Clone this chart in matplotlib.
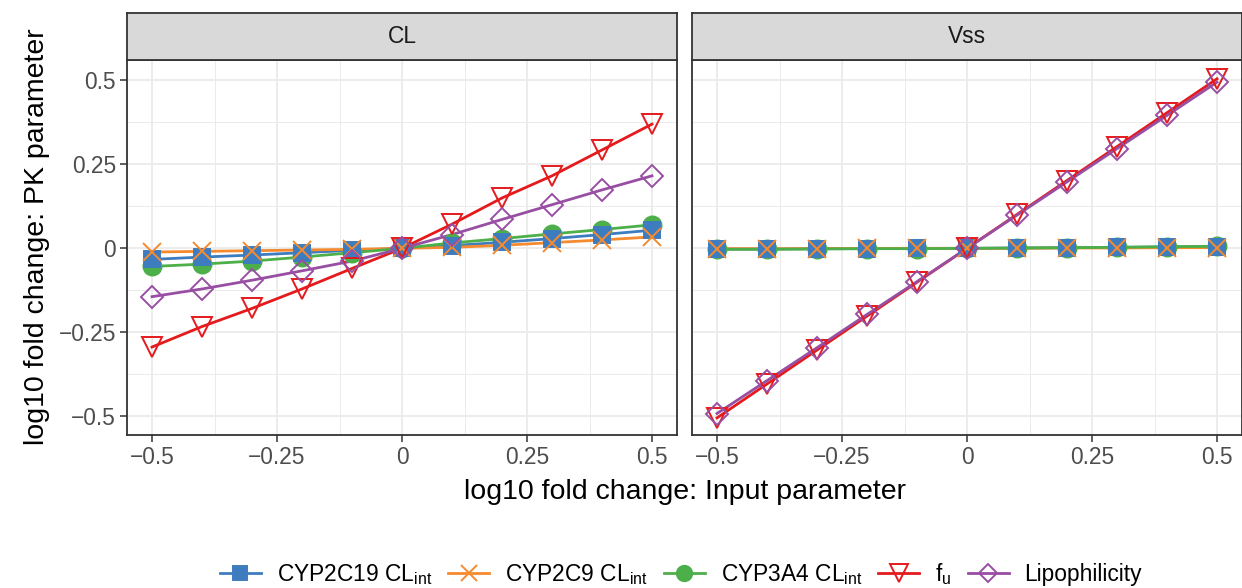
import numpy as np
import matplotlib.pyplot as plt
from matplotlib.lines import Line2D
from matplotlib.ticker import MultipleLocator

plt.rcParams['font.family'] = ['Liberation Sans', 'DejaVu Sans']
plt.rcParams['mathtext.fontset'] = 'custom'
plt.rcParams['mathtext.rm'] = 'Liberation Sans'

# Data
x_vals = [-0.5, -0.4, -0.3, -0.2, -0.1, 0.0, 0.1, 0.2, 0.3, 0.4, 0.5]
panels = ['CL', 'Vss']
series = ['CYP2C19', 'CYP2C9', 'CYP3A4', 'fu', 'Lipophilicity']
labels = [r'CYP2C19 CL$_\mathregular{int}$', r'CYP2C9 CL$_\mathregular{int}$',
          r'CYP3A4 CL$_\mathregular{int}$', r'f$_\mathregular{u}$', 'Lipophilicity']

cl_cyp2c19 = [-0.033, -0.026, -0.020, -0.013, -0.006, 0.0, 0.008, 0.018, 0.029, 0.041, 0.054]
cl_cyp2c9 = [-0.011, -0.009, -0.007, -0.005, -0.003, 0.0, 0.003, 0.009, 0.017, 0.025, 0.034]
cl_cyp3a4 = [-0.054, -0.047, -0.038, -0.026, -0.013, 0.0, 0.016, 0.029, 0.043, 0.056, 0.070]
cl_fu = [-0.294, -0.233, -0.179, -0.121, -0.060, 0.0, 0.072, 0.150, 0.216, 0.293, 0.370]
cl_lipo = [-0.144, -0.121, -0.095, -0.067, -0.038, 0.0, 0.041, 0.086, 0.130, 0.174, 0.216]

vss_cyp2c19 = [-0.002, -0.002, -0.001, -0.001, 0.0, 0.0, 0.001, 0.002, 0.003, 0.004, 0.005]
vss_cyp2c9 = [-0.001, -0.001, -0.001, 0.0, 0.0, 0.0, 0.0, 0.001, 0.001, 0.002, 0.002]
vss_cyp3a4 = [-0.003, -0.003, -0.002, -0.001, -0.001, 0.0, 0.001, 0.002, 0.003, 0.005, 0.006]
vss_fu = [-0.505, -0.404, -0.303, -0.202, -0.101, 0.0, 0.101, 0.202, 0.303, 0.404, 0.505]
vss_lipo = [-0.492, -0.394, -0.296, -0.197, -0.099, 0.0, 0.099, 0.198, 0.297, 0.396, 0.495]

data = {
    'CL': [cl_cyp2c19, cl_cyp2c9, cl_cyp3a4, cl_fu, cl_lipo],
    'Vss': [vss_cyp2c19, vss_cyp2c9, vss_cyp3a4, vss_fu, vss_lipo],
}

colors = ['#3E7CC0', '#F58A2E', '#4DAF4A', '#E41A1C', '#984EA3']
# marker, size, filled
styles = [('s', 12, True), ('x', 13, False), ('o', 13, True), ('v', 15, False), ('D', 11, False)]
point_z = [4, 5, 3, 6, 7]  # drawing order of the points

fig = plt.figure(figsize=(12.42, 5.88), dpi=100)
W, H = 1242, 588
ax_bottom = 1 - 435 / H
ax_height = (435 - 60) / H
strip_h = 47 / H
lefts = [127 / W, 692 / W]
width = 550 / W
tick_fs = 16.4
title_fs = 20.5

for i, panel in enumerate(panels):
    ax = fig.add_axes([lefts[i], ax_bottom, width, ax_height])
    for j, name in enumerate(series):
        ax.plot(x_vals, data[panel][j], color=colors[j], lw=2.0, zorder=2)
    for j, name in enumerate(series):
        m, ms, filled = styles[j]
        ax.plot(x_vals, data[panel][j], ls='none', marker=m, ms=ms,
                color=colors[j], markerfacecolor=colors[j] if filled else 'none',
                markeredgewidth=1.4, zorder=point_z[j])
    ax.set_xlim(-0.55, 0.55)
    ax.set_ylim(-0.556, 0.561)
    ax.set_xticks([-0.5, -0.25, 0, 0.25, 0.5])
    ax.set_xticklabels(['\u22120.5', '\u22120.25', '0', '0.25', '0.5'])
    ax.set_yticks([-0.5, -0.25, 0, 0.25, 0.5])
    ax.xaxis.set_minor_locator(MultipleLocator(0.125))
    ax.yaxis.set_minor_locator(MultipleLocator(0.125))
    ax.grid(which='major', color='#EBEBEB', lw=1.3, zorder=0)
    ax.grid(which='minor', color='#EBEBEB', lw=0.7, zorder=0)
    ax.set_axisbelow(True)
    ax.tick_params(which='minor', length=0)
    ax.tick_params(which='major', length=5, width=1.1, color='#333333',
                   labelsize=tick_fs, labelcolor='#4D4D4D', pad=3)
    for s in ax.spines.values():
        s.set_color('#333333')
        s.set_linewidth(1.3)
    if i == 0:
        ax.set_yticklabels(['\u22120.5', '\u22120.25', '0', '0.25', '0.5'])
        ax.set_ylabel('log10 fold change: PK parameter', fontsize=title_fs, labelpad=5)
        ax.yaxis.set_label_coords(-0.14, 0.53)
    else:
        ax.set_yticklabels([])
        ax.tick_params(axis='y', length=0)

    # facet strip
    sax = fig.add_axes([lefts[i], ax_bottom + ax_height, width, strip_h])
    sax.set_facecolor('#D9D9D9')
    sax.set_xticks([])
    sax.set_yticks([])
    for s in sax.spines.values():
        s.set_color('#333333')
        s.set_linewidth(1.3)
    sax.text(0.5, 0.5, panel, ha='center', va='center', fontsize=tick_fs,
             color='#1A1A1A', transform=sax.transAxes)

fig.text((127 + 1242) / 2 / W, 1 - 492 / H, 'log10 fold change: Input parameter',
         ha='center', va='center', fontsize=title_fs)

handles = []
for j in range(len(series)):
    m, ms, filled = styles[j]
    handles.append(Line2D([], [], color=colors[j], lw=2.0, marker=m, ms=ms * 0.85,
                          markerfacecolor=colors[j] if filled else 'none',
                          markeredgewidth=1.4))
fig.legend(handles, labels, loc='center', bbox_to_anchor=(0.5 + 60 / W, 1 - 574 / H),
           ncol=5, frameon=False, fontsize=tick_fs, handlelength=1.8, columnspacing=0.7,
           handletextpad=0.7)

fig.savefig('out.png', dpi=100)
